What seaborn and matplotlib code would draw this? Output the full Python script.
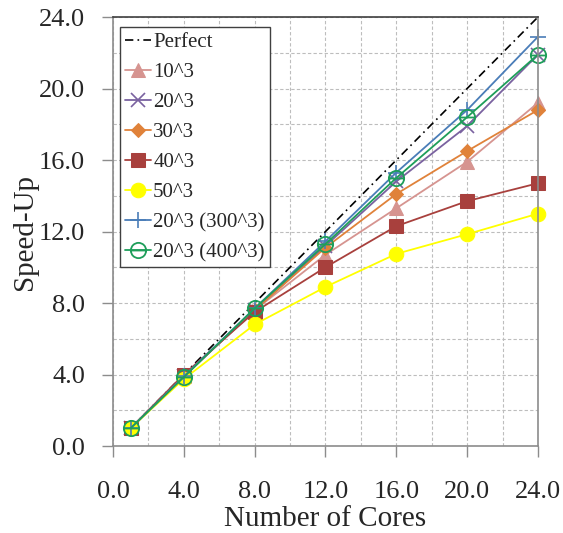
import matplotlib
matplotlib.use("Agg")
import matplotlib.pyplot as plt
import seaborn as sns
from matplotlib.ticker import MultipleLocator
from matplotlib.path import Path

cores = [1, 4, 8, 12, 16, 20, 24]
perfect = [1, 4, 8, 12, 16, 20, 24]
s10 = [1.0, 3.9, 7.6, 10.7, 13.3, 15.9, 19.2]
s20 = [1.0, 3.9, 7.6, 11.2, 14.8, 17.9, 21.9]
s30 = [1.0, 3.9, 7.6, 11.1, 14.1, 16.5, 18.8]
s40 = [1.0, 4.0, 7.5, 10.0, 12.3, 13.7, 14.7]
s50 = [1.0, 3.75, 6.8, 8.9, 10.75, 11.85, 13.0]
s300 = [1.0, 3.9, 7.7, 11.45, 15.3, 18.8, 22.9]
s400 = [1.0, 3.85, 7.7, 11.3, 15.0, 18.4, 21.9]

labels = ["Perfect", "10^3", "20^3", "30^3", "40^3", "50^3",
          "20^3 (300^3)", "20^3 (400^3)"]
tick_values = [0, 4, 8, 12, 16, 20, 24]
tick_labels = ["0.0", "4.0", "8.0", "12.0", "16.0", "20.0", "24.0"]

sns.set_theme(style="white")
plt.rcParams['font.family'] = ['Liberation Serif', 'DejaVu Serif']

circ_minus = Path.make_compound_path(
    Path.unit_circle(), Path([[-1, 0], [1, 0]], [Path.MOVETO, Path.LINETO]))

fig = plt.figure(figsize=(5.63, 5.33), dpi=100)
ax = fig.add_axes([0.2007, 0.1632, 0.7549, 0.8049])

ax.set_xlim(0, 24)
ax.set_ylim(0, 24)
ax.xaxis.set_minor_locator(MultipleLocator(2))
ax.yaxis.set_minor_locator(MultipleLocator(2))
ax.grid(True, which='both', color='#bdbdbd', linestyle=(0, (3, 2)), linewidth=0.8)
ax.set_axisbelow(True)

styles = [
    (perfect, dict(color='black', linestyle=(0, (5, 2.5, 1, 2.5)), linewidth=1.2, marker=None)),
    (s10, dict(color='#D69490', marker='^', markersize=10, markeredgecolor='#D69490')),
    (s20, dict(color='#7A62A0', marker='x', markersize=10, markeredgewidth=1.2, markeredgecolor='#7A62A0')),
    (s30, dict(color='#E0823A', marker='D', markersize=7.5, markeredgecolor='#E0823A')),
    (s40, dict(color='#A8403D', marker='s', markersize=10, markeredgecolor='#A8403D')),
    (s50, dict(color='#FFFF00', marker='o', markersize=10.5, markeredgecolor='#FFFF00')),
    (s300, dict(color='#4A7DB8', marker='+', markersize=12, markeredgewidth=1.2, markeredgecolor='#4A7DB8')),
    (s400, dict(color='#1E9E5A', marker=circ_minus, markersize=11, markeredgewidth=1.3,
                markerfacecolor='none', markeredgecolor='#1E9E5A')),
]

for (vals, kw), lab in zip(styles, labels):
    lw = kw.pop('linewidth', 1.3)
    sns.lineplot(x=cores, y=vals, ax=ax, label=lab, linewidth=lw, clip_on=False, **kw)

for side in ['left', 'bottom', 'right']:
    ax.spines[side].set_color('#8c8c8c')
    ax.spines[side].set_linewidth(1.2)
ax.spines['top'].set_color('#404040')
ax.spines['top'].set_linewidth(1.2)

ax.set_xticks(tick_values)
ax.set_xticklabels(tick_labels)
ax.set_yticks(tick_values)
ax.set_yticklabels(tick_labels)
ax.tick_params(axis='both', which='major', direction='out', length=8, width=1,
               color='#8c8c8c', labelsize=19, bottom=True, left=True)
ax.tick_params(axis='both', which='minor', length=0)
ax.tick_params(axis='x', pad=17)
ax.tick_params(axis='y', pad=12)

ax.set_xlabel("Number of Cores", fontsize=21, labelpad=2.5)
ax.set_ylabel("Speed-Up", fontsize=21, labelpad=1)

leg = ax.legend(loc='upper left', bbox_to_anchor=(0.016, 0.976), fontsize=15,
                frameon=True, fancybox=False, framealpha=1, edgecolor='#404040',
                handlelength=1.25, handletextpad=0.1, labelspacing=0.5,
                borderpad=0.25, borderaxespad=0.0)
leg.get_frame().set_linewidth(1.0)

fig.savefig("out.png", dpi=100)
